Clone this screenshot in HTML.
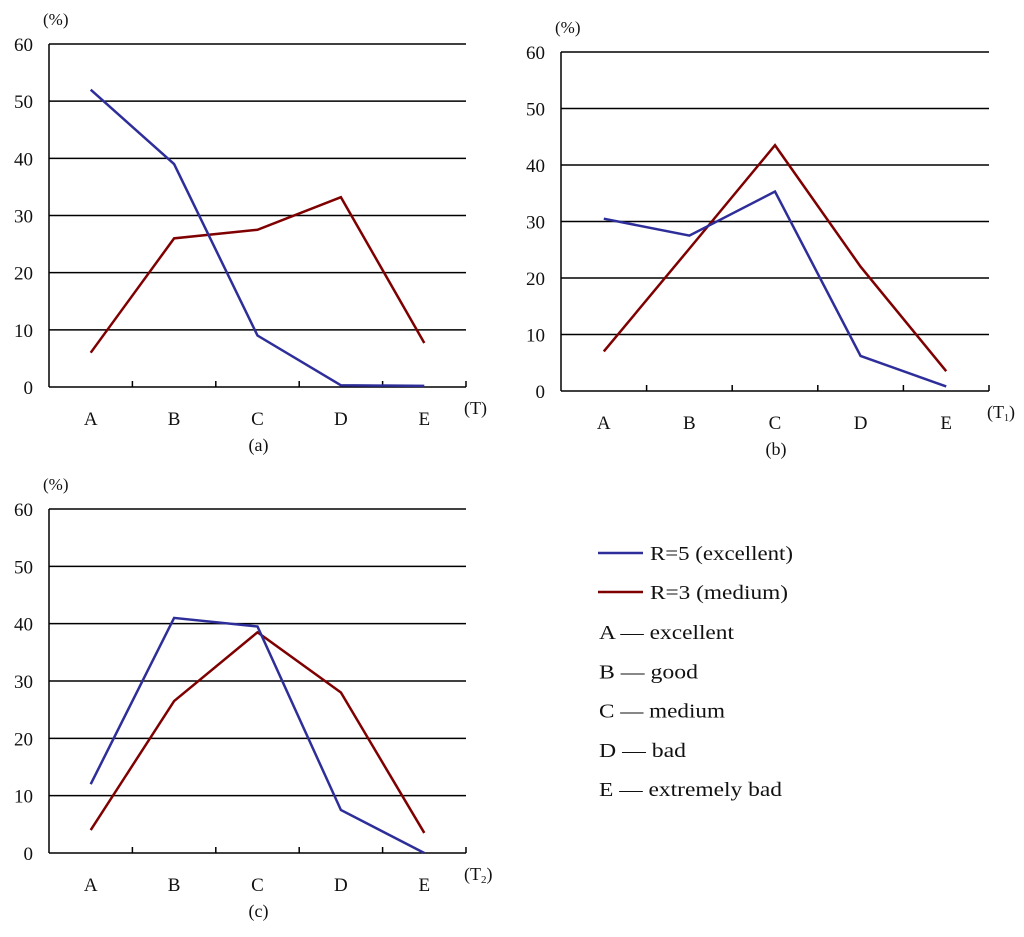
<!DOCTYPE html>
<html><head><meta charset="utf-8"><style>
body{margin:0;background:#fff;}
svg text{font-family:"Liberation Serif",serif;fill:#111;}
</style></head><body>
<svg id="s" width="1024" height="932" xmlns="http://www.w3.org/2000/svg"></svg>
<script>
const categories=["A","B","C","D","E"];
const yTicks=[0,10,20,30,40,50,60];
const aBlue=[52,39,9,0.3,0.2];
const aRed=[6,26,27.5,33.2,7.7];
const bBlue=[30.5,27.5,35.3,6.2,0.8];
const bRed=[7,25.2,43.5,22,3.5];
const cBlue=[12,41,39.5,7.5,0];
const cRed=[4,26.5,38.5,28,3.5];
const legendItems=["A — excellent","B — good","C — medium","D — bad","E — extremely bad"];
const legendWidths=[135,99,126,87,183];
const S=document.getElementById('s');const NS="http://www.w3.org/2000/svg";
function mk(t,a,p){const e=document.createElementNS(NS,t);for(const k in a)e.setAttribute(k,a[k]);(p||S).appendChild(e);return e;}
function panel(id,L,T,B,R,blue,red,cap,xl){
 const g=mk('g',{});
 
 
 const w=(R-L)/5;
 const y=v=>B-(v/60)*(B-T);const x=i=>L+(i+0.5)*w;
 yTicks.forEach(v=>{if(v>0){const l=mk('line',{x1:L,x2:R,y1:y(v),y2:y(v),stroke:'#000','stroke-width':1.5},g);}
  const t=mk('text',{x:L-16,y:y(v)+7,'text-anchor':'end','font-size':19},g);t.textContent=v;});
 mk('line',{x1:L,x2:L,y1:T,y2:B,stroke:'#000','stroke-width':1.5},g);
 mk('line',{x1:L,x2:R,y1:B,y2:B,stroke:'#000','stroke-width':1.5},g);
 for(let i=1;i<=5;i++)mk('line',{x1:L+i*w,x2:L+i*w,y1:B,y2:B-6,stroke:'#000','stroke-width':1.5},g);
 categories.forEach((c,i)=>{const t=mk('text',{x:x(i),y:B+38,'text-anchor':'middle','font-size':19},g);t.textContent=c;});
 const u=mk('text',{x:L-6,y:T-19,'font-size':17},g);u.textContent='(%)';
 const xt=mk('text',{x:R-2,y:B+27,'font-size':18},g);xt.innerHTML=xl;
 const cp=mk('text',{x:L+(R-L)/2+1,y:B+64,'text-anchor':'middle','font-size':18},g);cp.textContent=cap;
 [[red,'#7f0000','red'],[blue,'#2e2e9a','blue']].forEach(([d,col,n])=>{const p=mk('polyline',{points:d.map((v,i)=>x(i)+','+y(v)).join(' '),fill:'none',stroke:col,'stroke-width':2.5},g);});
}
panel('a',49,44,387,466,aBlue,aRed,'(a)','(T)');
panel('b',561,52,391,989,bBlue,bRed,'(b)','(T<tspan font-size="10" dy="3">1</tspan><tspan dy="-3">)</tspan>');
panel('c',49,509,853,466,cBlue,cRed,'(c)','(T<tspan font-size="11" dy="3">2</tspan><tspan dy="-3">)</tspan>');
[['R=5 (excellent)','#2e2e9a',143],['R=3 (medium)','#7f0000',138]].forEach(([t,c,wd],i)=>{const yy=553+i*39;
 const l=mk('line',{x1:598,x2:643,y1:yy,y2:yy,stroke:c,'stroke-width':2.5});
 const tx=mk('text',{x:650,y:yy+7,'font-size':20,textLength:wd,lengthAdjust:'spacingAndGlyphs'});tx.textContent=t;});
legendItems.forEach((t,i)=>{const tx=mk('text',{x:599,y:639+i*39.3,'font-size':20,textLength:legendWidths[i],lengthAdjust:'spacingAndGlyphs'});tx.textContent=t;});
</script>
</body></html>
